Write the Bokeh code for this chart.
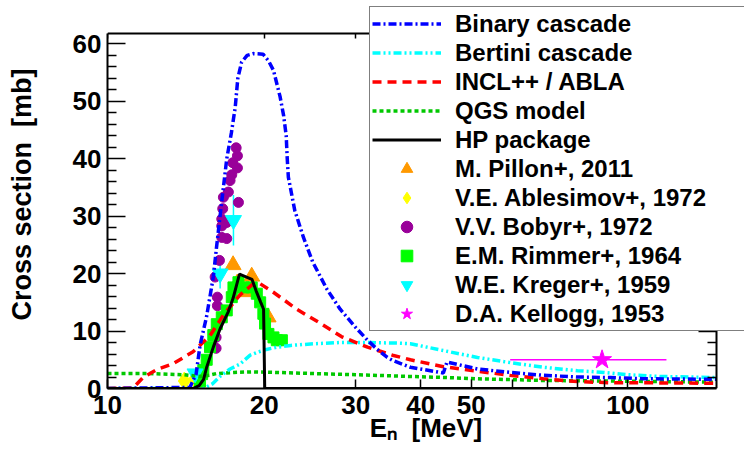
from bokeh.plotting import figure
from bokeh.models import (Range1d, FixedTicker, LinearAxis, LogAxis, Legend, LegendItem,
                          CustomJSTickFormatter)
from bokeh.embed import file_html
from bokeh.resources import INLINE

# ---------------- data ----------------
binary_x = [10, 14.4, 14.8, 15.06, 15.5, 15.97, 16.2, 16.6, 16.95, 17.3, 17.6, 17.8, 18.1, 18.55,
            19.05, 19.9, 20.4, 20.84, 21.46, 21.8, 22.05, 22.15, 22.26, 22.9, 23.8, 24.8, 26.4,
            28.0, 30.0, 31.6, 33.0, 34.5, 35.3, 38.2, 44.2, 44.9, 51.4, 59.4, 68.8, 80.0, 92.5,
            107, 148]
binary_y = [0, 0.2, 2.5, 7.5, 12.5, 19.4, 24.6, 33, 40, 44.5, 49, 54, 56.8, 58, 58.3, 58.2, 57,
            55.4, 50.8, 47.5, 44, 40, 36.8, 31, 26.3, 22.0, 17.3, 13.8, 10.6, 8.4, 6.8, 5.4, 4.9,
            3.7, 2.7, 4.6, 3.4, 2.8, 2.3, 2.0, 1.9, 1.7, 1.6]

bertini_x = [10, 15.3, 15.9, 16.5, 17.2, 18.0, 18.8, 19.4, 20.2, 21.2, 22.5, 25.0, 28.0, 32.0,
             36.0, 38.2, 44.2, 51.4, 59.4, 68.8, 80.0, 90.0, 100, 115, 148]
bertini_y = [0, 0, 0.8, 2.2, 3.4, 4.3, 5.8, 6.3, 6.8, 7.2, 7.5, 7.8, 8.0, 8.0, 7.9, 7.8, 6.6,
             5.4, 4.5, 3.7, 3.1, 2.8, 2.4, 2.1, 1.9]

incl_x = [10, 11.2, 11.7, 12.45, 13.36, 14.6, 15.74, 16.7, 17.98, 19.05, 19.6, 20.8, 23.1, 25.6,
          28.2, 31.6, 35.3, 38.2, 44.2, 51.4, 59.4, 68.8, 80, 92.5, 107, 148]
incl_y = [0, 0.1, 1.9, 3.3, 4.3, 6.4, 9.2, 12.8, 16.3, 18.2, 18.3, 16.8, 13.8, 11.4, 9.0, 7.2,
          5.8, 5.0, 3.8, 3.0, 2.3, 1.7, 1.2, 1.0, 1.0, 0.9]

qgs_x = [10, 12, 14, 15, 15.5, 16.2, 17.5, 19, 21, 25, 30, 38, 45, 51, 69, 92, 148]
qgs_y = [2.6, 2.6, 2.4, 2.1, 2.2, 2.6, 2.8, 2.9, 2.8, 2.6, 2.4, 2.1, 1.9, 1.7, 1.4, 1.3, 1.1]

hp_x = [10, 14.6, 15.0, 15.3, 15.51, 15.97, 16.46, 17.07, 17.43, 17.93, 18.5, 18.95, 19.3, 19.7,
        19.95, 20.05, 148]
hp_y = [0, 0, 0.5, 1.6, 3.7, 7.2, 10.4, 13.4, 15.7, 19.9, 19.4, 19.0, 17.0, 15.0, 13.8, 0, 0]

pillon_x = [17.43, 17.75, 18.4, 18.93, 20.35]
pillon_y = [21.5, 18.3, 16.8, 19.5, 12.4]

ablesimov_x = [14.05, 14.7]
ablesimov_y = [1.3, 1.6]

bobyr_x = [17.67, 17.77, 17.41, 17.77, 17.33, 17.20, 17.07, 16.70, 17.85, 16.65, 16.58, 16.95,
           16.58, 16.58, 16.95, 16.41, 16.10, 16.26, 16.26, 16.17, 16.17]
bobyr_y = [41.9, 40.5, 39.3, 38.4, 37.2, 36.2, 34.2, 33.3, 32.4, 31.3, 29.5, 28.9, 28.3, 26.3,
           26.1, 22.3, 19.4, 15.9, 14.4, 8.9, 7.0]

rimmer_x = [15.06, 15.2, 15.28, 15.51, 15.74, 15.97, 16.22, 16.58, 16.95, 17.33, 17.46, 17.85,
            18.25, 18.93, 19.36, 19.65, 19.93, 20.08, 20.38, 20.84, 21.15, 21.63]
rimmer_y = [1.2, 2.5, 3.2, 5.0, 7.2, 9.3, 11.2, 12.4, 13.6, 15.9, 17.6, 18.5, 17.6, 17.6, 16.5,
            15.0, 13.0, 11.3, 9.5, 8.9, 8.4, 8.4]

kreger_x = [14.73, 16.46, 17.46]
kreger_y = [2.6, 20.0, 29.3]
kreger_err = [0.0, 2.6, 4.4]

kellogg_x = [89.2]
kellogg_y = [5.0]
kellogg_xlo = [59.4]
kellogg_xhi = [118.6]

# axis extents of the drawn box, and tick values
x_box = (10, 148)
y_box = (0, 61.8)
x_ticks = [10, 20, 30, 40, 50, 60, 70, 80, 90, 100]
x_labeled = [10, 20, 30, 40, 50, 100]
y_ticks = [0, 10, 20, 30, 40, 50, 60]
y_minor = [v for v in range(0, 62, 2) if v % 10 != 0]

FONT = "Liberation Sans"

# The frame is extended to the top and right canvas edges so that the legend,
# which sits across the top-right corner of the box, is not clipped.
# Box: 609 px for 10..148 (log), 355 px for 0..61.8.
px_per_decade = 609 / 1.17026
x_end = 10 ** (1 + 637 / px_per_decade)
y_end = 61.8 * 388 / 355

p = figure(x_axis_type="log", x_range=Range1d(10, x_end), y_range=Range1d(0, y_end),
           frame_width=637, frame_height=388,
           min_border_left=107, min_border_right=0, min_border_top=0, min_border_bottom=64,
           output_backend="svg", toolbar_location=None)
p.grid.visible = False
p.outline_line_color = None
p.background_fill_color = "white"
p.border_fill_color = "white"

fmt = CustomJSTickFormatter(args=dict(lab=x_labeled),
                            code="return lab.indexOf(Math.round(tick)) >= 0 ? String(Math.round(tick)) : '';")
blank = CustomJSTickFormatter(code="return '';")

xa = p.xaxis[0]
xa.bounds = x_box
xa.ticker = FixedTicker(ticks=x_ticks, minor_ticks=[])
xa.formatter = fmt
xa.major_tick_in = 9
xa.major_tick_out = 0
xa.minor_tick_in = 0
xa.minor_tick_out = 0
xa.axis_line_width = 2
xa.major_tick_line_width = 1.5
xa.major_label_text_font = FONT
xa.major_label_text_font_style = "bold"
xa.major_label_text_font_size = "26px"
xa.major_label_text_color = "black"
xa.major_label_standoff = 7
xa.axis_label = "E\u2099 \u00a0[MeV]"
xa.axis_label_text_font = FONT
xa.axis_label_text_font_style = "bold"
xa.axis_label_text_font_size = "26px"
xa.axis_label_text_color = "black"
xa.axis_label_standoff = -4

ya = p.yaxis[0]
ya.bounds = y_box
ya.ticker = FixedTicker(ticks=y_ticks, minor_ticks=y_minor)
ya.major_tick_in = 18
ya.major_tick_out = 0
ya.minor_tick_in = 9
ya.minor_tick_out = 0
ya.axis_line_width = 2
ya.major_tick_line_width = 1.5
ya.minor_tick_line_width = 1.5
ya.major_label_text_font = FONT
ya.major_label_text_font_style = "bold"
ya.major_label_text_font_size = "26px"
ya.major_label_text_color = "black"
ya.major_label_standoff = 6
ya.axis_label = "Cross section \u00a0[mb]"
ya.axis_label_text_font = FONT
ya.axis_label_text_font_style = "bold"
ya.axis_label_text_font_size = "27px"
ya.axis_label_text_color = "black"
ya.axis_label_standoff = 33

ra = LinearAxis(ticker=FixedTicker(ticks=y_ticks, minor_ticks=y_minor), formatter=blank,
                bounds=y_box, fixed_location=x_box[1],
                major_tick_in=18, major_tick_out=0, minor_tick_in=9, minor_tick_out=0,
                major_tick_line_width=1.5, minor_tick_line_width=1.5,
                axis_line_width=2, major_label_standoff=0)
p.add_layout(ra, "right")
ta = LogAxis(ticker=FixedTicker(ticks=x_ticks, minor_ticks=[]), formatter=blank,
             bounds=x_box, fixed_location=y_box[1],
             major_tick_in=5, major_tick_out=0, minor_tick_in=0, minor_tick_out=0,
             major_tick_line_width=1.5, axis_line_width=2, major_label_standoff=0)
p.add_layout(ta, "above")

# ---------------- data points ----------------
p.segment(x0=kreger_x, y0=[y - e for y, e in zip(kreger_y, kreger_err)],
          x1=kreger_x, y1=[y + e for y, e in zip(kreger_y, kreger_err)],
          line_color="#00ffff", line_width=1.5)
p.segment(x0=kellogg_xlo, y0=kellogg_y, x1=kellogg_xhi, y1=kellogg_y,
          line_color="#ff00ff", line_width=1.5)

r_pillon = p.scatter(pillon_x, pillon_y, marker="triangle", size=16, color="#ff9900")
r_ables = p.scatter(ablesimov_x, ablesimov_y, marker="diamond", size=18, color="#ffff00")
r_bobyr = p.scatter(bobyr_x, bobyr_y, marker="circle", size=10, color="#990099")
r_rimmer = p.scatter(rimmer_x, rimmer_y, marker="square", size=11, color="#00ff00")
r_kreger = p.scatter(kreger_x, kreger_y, marker="inverted_triangle", size=16, color="#00ffff")
r_kellogg = p.scatter(kellogg_x, kellogg_y, marker="star", size=20, color="#ff00ff")

# ---------------- model curves ----------------
r_qgs = p.line(qgs_x, qgs_y, line_color="#00c800", line_width=3.5, line_dash="4 3")
r_bert = p.line(bertini_x, bertini_y, line_color="#00ffff", line_width=3.5, line_dash="8 3 2 3 2 3")
r_incl = p.line(incl_x, incl_y, line_color="#ff0000", line_width=3.5, line_dash="9 6")
r_bin = p.line(binary_x, binary_y, line_color="#0000ff", line_width=3.5, line_dash="8 3 2 3")
r_hp = p.line(hp_x, hp_y, line_color="black", line_width=3)

items = [
    LegendItem(label="Binary cascade", renderers=[r_bin]),
    LegendItem(label="Bertini cascade", renderers=[r_bert]),
    LegendItem(label="INCL++ / ABLA", renderers=[r_incl]),
    LegendItem(label="QGS model", renderers=[r_qgs]),
    LegendItem(label="HP package", renderers=[r_hp]),
    LegendItem(label="M. Pillon+, 2011", renderers=[r_pillon]),
    LegendItem(label="V.E. Ablesimov+, 1972", renderers=[r_ables]),
    LegendItem(label="V.V. Bobyr+, 1972", renderers=[r_bobyr]),
    LegendItem(label="E.M. Rimmer+, 1964", renderers=[r_rimmer]),
    LegendItem(label="W.E. Kreger+, 1959", renderers=[r_kreger]),
    LegendItem(label="D.A. Kellogg, 1953", renderers=[r_kellogg]),
]
legend = Legend(items=items, location=(262, 57),
                label_text_font=FONT, label_text_font_style="bold", label_text_font_size="24px",
                label_text_color="black",
                glyph_width=69, glyph_height=29, label_height=29, label_width=300,
                label_standoff=14, spacing=0, padding=2, margin=0,
                border_line_color="black", border_line_width=1.5,
                background_fill_color="white", background_fill_alpha=1.0)
p.add_layout(legend)

open("out.html", "w").write(file_html(p, INLINE))
